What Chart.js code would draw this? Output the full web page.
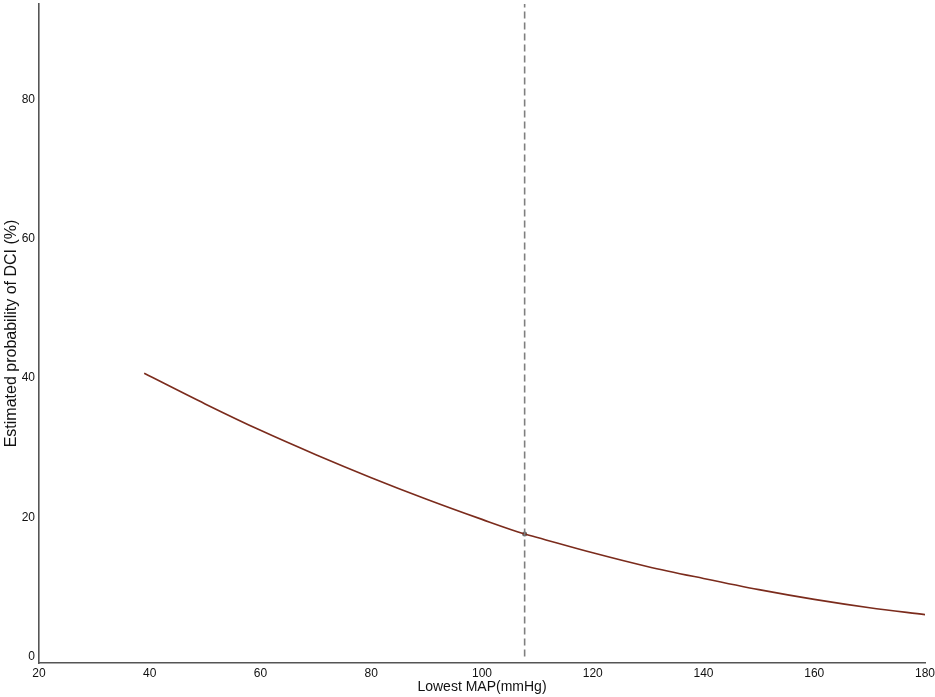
<!DOCTYPE html>
<html>
<head>
<meta charset="utf-8">
<script src="https://cdn.jsdelivr.net/npm/chart.js@4.4.1/dist/chart.umd.min.js"></script>
<style>
  html, body { margin: 0; padding: 0; background: #ffffff; }
  #wrap { width: 935px; height: 697px; position: relative; }
</style>
</head>
<body>
<div id="wrap"><canvas id="c" width="935" height="697"></canvas></div>
<script>
// Data
const mapValues = [39, 50, 60, 70, 80, 90, 100, 107.7, 110, 120, 130, 140, 150, 160, 170, 180];
const probValues = [40.7, 36.3, 32.5, 29.0, 25.7, 22.6, 19.7, 17.6, 17.1, 14.9, 12.9, 11.2, 9.6, 8.2, 7.0, 6.0];
const cutoffX = [107.7, 107.7];
const cutoffY = [0, 93.8];
const cutoffPoint = [107.7, 17.6];
const xTicks = [20, 40, 60, 80, 100, 120, 140, 160, 180];
const yTicks = [0, 20, 40, 60, 80];

const curve = mapValues.map((x, i) => ({ x: x, y: probValues[i] }));
const vline = cutoffX.map((x, i) => ({ x: x, y: cutoffY[i] }));

new Chart(document.getElementById('c'), {
  type: 'line',
  data: {
    datasets: [
      {
        data: vline,
        borderColor: '#7f7f7f',
        borderWidth: 1.6,
        borderDash: [7, 4],
        pointRadius: 0,
        fill: false
      },
      {
        data: curve,
        borderColor: '#7b2b1c',
        borderWidth: 1.6,
        pointRadius: 0,
        tension: 0.4,
        cubicInterpolationMode: 'monotone',
        fill: false
      },
      {
        data: [{ x: cutoffPoint[0], y: cutoffPoint[1] }],
        showLine: false,
        pointRadius: 2.5,
        pointBackgroundColor: '#6b6b6b',
        pointBorderColor: '#555555',
        pointBorderWidth: 0
      }
    ]
  },
  options: {
    responsive: false,
    animation: false,
    devicePixelRatio: 1,
    layout: { padding: { top: 3, right: 10, left: 0, bottom: 0 } },
    plugins: { legend: { display: false }, tooltip: { enabled: false } },
    scales: {
      x: {
        type: 'linear',
        min: 20,
        max: 180,
        afterBuildTicks: (s) => { s.ticks = xTicks.map(v => ({ value: v })); },
        afterFit: (s) => { s.height = 34; s.paddingLeft = 0; s.paddingRight = 0; },
        grid: { display: false, drawTicks: false, tickLength: 0 },
        border: { display: true, color: '#555555', width: 1.6 },
        ticks: {
          color: '#111111',
          font: { family: 'Liberation Sans, Arial, sans-serif', size: 12 },
          padding: 3,
          maxRotation: 0,
          autoSkip: false
        },
        title: {
          display: true,
          text: 'Lowest MAP(mmHg)',
          color: '#111111',
          font: { family: 'Liberation Sans, Arial, sans-serif', size: 14 },
          padding: { top: 0, bottom: 1 }
        }
      },
      y: {
        type: 'linear',
        min: -0.95,
        max: 93.8,
        afterBuildTicks: (s) => { s.ticks = yTicks.map(v => ({ value: v })); },
        afterFit: (s) => { s.width = 39; s.paddingTop = 0; s.paddingBottom = 0; },
        grid: { display: false, drawTicks: false, tickLength: 0 },
        border: { display: true, color: '#555555', width: 1.6 },
        ticks: {
          color: '#111111',
          font: { family: 'Liberation Sans, Arial, sans-serif', size: 12 },
          padding: 4,
          autoSkip: false
        },
        title: {
          display: true,
          text: 'Estimated probability of DCI (%)',
          color: '#111111',
          font: { family: 'Liberation Sans, Arial, sans-serif', size: 16 },
          padding: { top: 2, bottom: 0 }
        }
      }
    }
  }
});
</script>
</body>
</html>
